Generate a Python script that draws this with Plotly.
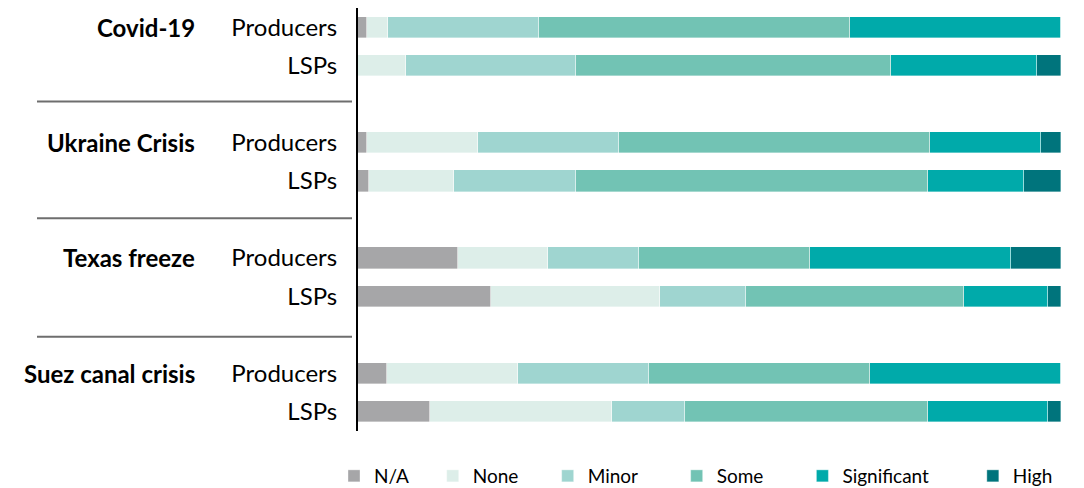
import plotly.graph_objects as go

groups = ["Covid-19", "Ukraine Crisis", "Texas freeze", "Suez canal crisis"]
respondents = ["Producers", "LSPs"]
levels = ["N/A", "None", "Minor", "Some", "Significant", "High"]
colors = ["#A6A6A8", "#DDEEE9", "#9FD5D0", "#72C3B4", "#00AAAA", "#00747C"]

# Shares (%) per row, in order: Covid P, Covid L, Ukraine P, Ukraine L, Texas P, Texas L, Suez P, Suez L
na          = [1.3, 0.0, 1.3, 1.6, 14.2, 18.9, 4.1, 10.2]
none_       = [2.9, 6.8, 15.7, 12.1, 12.8, 24.1, 18.7, 26.0]
minor       = [21.5, 24.2, 20.1, 17.3, 13.0, 12.2, 18.6, 10.3]
some        = [44.3, 44.8, 44.3, 50.1, 24.3, 31.0, 31.4, 34.6]
significant = [30.0, 20.8, 15.7, 13.7, 28.6, 12.0, 27.2, 17.1]
high        = [0.0, 3.4, 2.9, 5.2, 7.1, 1.8, 0.0, 1.8]
series = [na, none_, minor, some, significant, high]

# extra spacing after each legend label (non-breaking spaces)
legend_pad = [4, 5, 7, 7, 8, 0]

# row positions: 2 rows per group, one empty slot between groups
ypos = []
for g in range(len(groups)):
    ypos += [g * 3, g * 3 + 1]
ticktext = respondents * len(groups)

FONT = "Lato"
NB = "\u00a0"

fig = go.Figure()
for name, vals, col, pad in zip(levels, series, colors, legend_pad):
    fig.add_trace(go.Bar(
        y=ypos, x=vals, name=name + NB * pad, orientation="h",
        marker=dict(color=col, line=dict(width=0.6, color="rgba(255,255,255,0.6)")),
        width=0.55,
    ))

# page has an 8px body margin; figure is sized to fit inside the window
W, H = 1076, 480
ml, mr, mt, mb = 350, 23, 0, 57
pw = W - ml - mr
ph = H - mt - mb

def px_to_paper_x(px):
    return (px - ml) / pw

annotations = []
for g, name in enumerate(groups):
    annotations.append(dict(
        x=px_to_paper_x(189), xref="paper", y=g * 3, yref="y",
        text="<b>" + name + "</b>", showarrow=False, xanchor="right", yanchor="middle",
        font=dict(family=FONT, size=24, color="#000000"),
    ))

shapes = []
for ysep in [1.93, 4.97, 8.05]:
    shapes.append(dict(
        type="line", xref="paper", yref="y",
        x0=px_to_paper_x(29), x1=px_to_paper_x(344), y0=ysep, y1=ysep,
        line=dict(color="#6E6E6E", width=2),
    ))

fig.update_layout(
    width=W, height=H,
    margin=dict(l=ml, r=mr, t=mt, b=mb, pad=0, autoexpand=False),
    barmode="stack",
    bargap=0,
    paper_bgcolor="white", plot_bgcolor="white",
    font=dict(family=FONT, size=24, color="#000000"),
    xaxis=dict(range=[0, 100], showgrid=False, zeroline=False, showticklabels=False,
               showline=False, ticks="", fixedrange=True),
    yaxis=dict(range=[10.5, -0.5], tickvals=ypos, ticktext=ticktext, showgrid=False,
               zeroline=False, showline=True, linecolor="#000000", linewidth=2,
               ticks="", ticklabelstandoff=14, tickfont=dict(family=FONT, size=24)),
    legend=dict(orientation="h", x=px_to_paper_x(326), xanchor="left",
                y=-(468 - (H - mb)) / ph, yanchor="middle",
                font=dict(family=FONT, size=19, color="#000000"),
                traceorder="normal", itemclick=False, itemdoubleclick=False),
    annotations=annotations,
    shapes=shapes,
    showlegend=True,
)

fig.write_html("out.html")
